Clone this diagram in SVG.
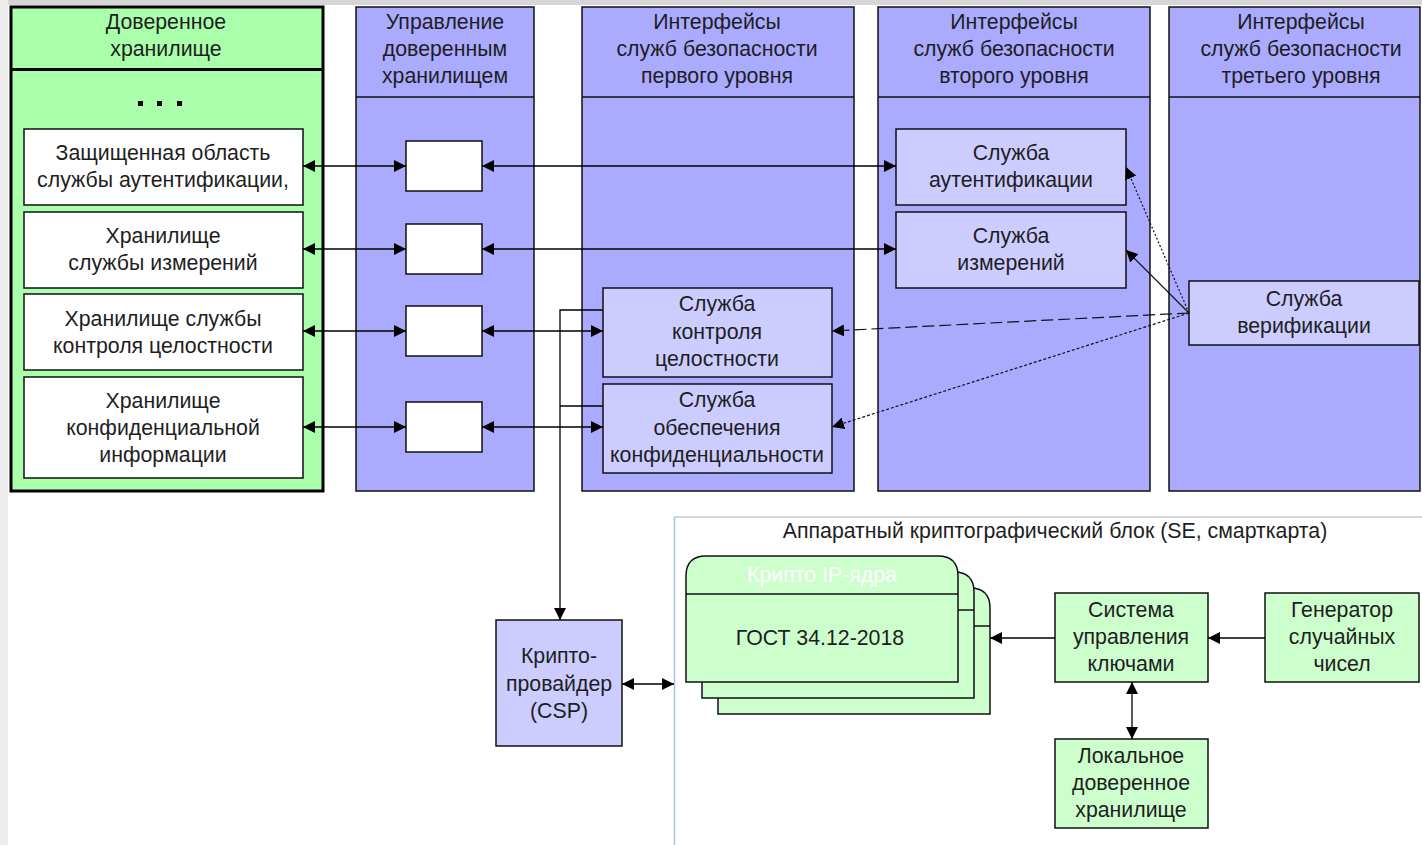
<svg xmlns="http://www.w3.org/2000/svg" width="1422" height="845" viewBox="0 0 1422 845">
  <defs>
    <marker id="ah" viewBox="0 0 12 12" refX="12" refY="6" markerWidth="12" markerHeight="12" markerUnits="userSpaceOnUse" orient="auto-start-reverse">
      <path d="M0,0 L12,6 L0,12 z" fill="#000"/>
    </marker>
    <style>
      text { font-family: "Liberation Sans", Arial, sans-serif; font-size: 21.3px; fill: #1e1e1e; text-anchor: middle; }
      .col { fill: #aaaaff; stroke: #111; stroke-width: 1.5; }
      .store { fill: #fff; stroke: #111; stroke-width: 1.5; }
      .svc { fill: #ccccff; stroke: #111; stroke-width: 1.5; }
      .hw { fill: #ccffcc; stroke: #111; stroke-width: 1.5; }
      .link { fill: none; stroke: #000; stroke-width: 1.3; }
      .dep { fill: none; stroke: #111; stroke-width: 1.2; }
    </style>
  </defs>

  <!-- page background -->
  <rect x="0" y="0" width="1422" height="845" fill="#ffffff"/>
  <rect x="0" y="0" width="1422" height="5" fill="#d6d6d6"/>
  <rect x="0" y="0" width="8" height="845" fill="#ececec"/>

  <!-- trusted storage panel -->
  <g id="trusted-storage">
    <rect x="11" y="7" width="312" height="484" fill="#aaffaa" stroke="#000" stroke-width="3"/>
    <line x1="11" y1="69.5" x2="323" y2="69.5" stroke="#000" stroke-width="3"/>
    <text x="166" y="29">Доверенное</text>
    <text x="166" y="56">хранилище</text>
    <g fill="#000">
      <rect x="138" y="101" width="5" height="5"/>
      <rect x="157" y="101" width="5" height="5"/>
      <rect x="177" y="101" width="5" height="5"/>
    </g>
  </g>
  <g id="store-auth">
    <rect class="store" x="24" y="129" width="279" height="76"/>
    <text x="163" y="160">Защищенная область</text>
    <text x="163" y="187">службы аутентификации,</text>
  </g>
  <g id="store-measure">
    <rect class="store" x="24" y="212" width="279" height="76"/>
    <text x="163" y="243">Хранилище</text>
    <text x="163" y="270">службы измерений</text>
  </g>
  <g id="store-integrity">
    <rect class="store" x="24" y="294" width="279" height="76"/>
    <text x="163" y="326">Хранилище службы</text>
    <text x="163" y="353">контроля целостности</text>
  </g>
  <g id="store-conf">
    <rect class="store" x="24" y="377" width="279" height="101"/>
    <text x="163" y="408">Хранилище</text>
    <text x="163" y="435">конфиденциальной</text>
    <text x="163" y="462">информации</text>
  </g>

  <!-- storage management column -->
  <g id="col-management">
    <rect class="col" x="356" y="7" width="178" height="484"/>
    <line x1="356" y1="97" x2="534" y2="97" stroke="#111" stroke-width="1.5"/>
    <text x="445" y="29">Управление</text>
    <text x="445" y="56">доверенным</text>
    <text x="445" y="83">хранилищем</text>
  </g>
  <g id="mgr-1"><rect class="store" x="406" y="141" width="76" height="50"/></g>
  <g id="mgr-2"><rect class="store" x="406" y="224" width="76" height="50"/></g>
  <g id="mgr-3"><rect class="store" x="406" y="306" width="76" height="50"/></g>
  <g id="mgr-4"><rect class="store" x="406" y="402" width="76" height="50"/></g>

  <!-- level 1 interfaces -->
  <g id="col-level1">
    <rect class="col" x="582" y="7" width="272" height="484"/>
    <line x1="582" y1="97" x2="854" y2="97" stroke="#111" stroke-width="1.5"/>
    <text x="717" y="29">Интерфейсы</text>
    <text x="717" y="56">служб безопасности</text>
    <text x="717" y="83">первого уровня</text>
  </g>
  <g id="svc-integrity">
    <rect class="svc" x="603" y="288" width="229" height="89"/>
    <text x="717" y="311">Служба</text>
    <text x="717" y="339">контроля</text>
    <text x="717" y="366">целостности</text>
  </g>
  <g id="svc-conf">
    <rect class="svc" x="603" y="384" width="229" height="89"/>
    <text x="717" y="407">Служба</text>
    <text x="717" y="435">обеспечения</text>
    <text x="717" y="462">конфиденциальности</text>
  </g>

  <!-- level 2 interfaces -->
  <g id="col-level2">
    <rect class="col" x="878" y="7" width="272" height="484"/>
    <line x1="878" y1="97" x2="1150" y2="97" stroke="#111" stroke-width="1.5"/>
    <text x="1014" y="29">Интерфейсы</text>
    <text x="1014" y="56">служб безопасности</text>
    <text x="1014" y="83">второго уровня</text>
  </g>
  <g id="svc-auth">
    <rect class="svc" x="896" y="129" width="230" height="76"/>
    <text x="1011" y="160">Служба</text>
    <text x="1011" y="187">аутентификации</text>
  </g>
  <g id="svc-measure">
    <rect class="svc" x="896" y="212" width="230" height="76"/>
    <text x="1011" y="243">Служба</text>
    <text x="1011" y="270">измерений</text>
  </g>

  <!-- level 3 interfaces -->
  <g id="col-level3">
    <rect class="col" x="1169" y="7" width="251" height="484"/>
    <line x1="1169" y1="97" x2="1420" y2="97" stroke="#111" stroke-width="1.5"/>
    <text x="1301" y="29">Интерфейсы</text>
    <text x="1301" y="56">служб безопасности</text>
    <text x="1301" y="83">третьего уровня</text>
  </g>
  <g id="svc-verify">
    <rect class="svc" x="1189" y="281" width="230" height="64"/>
    <text x="1304" y="306">Служба</text>
    <text x="1304" y="333">верификации</text>
  </g>

  <!-- crypto provider -->
  <g id="csp">
    <rect class="svc" x="496" y="620" width="126" height="126"/>
    <text x="559" y="663">Крипто-</text>
    <text x="559" y="691">провайдер</text>
    <text x="559" y="718">(CSP)</text>
  </g>

  <!-- hardware crypto block -->
  <g id="hw-block">
    <line x1="674" y1="517" x2="1422" y2="517" stroke="#c8c8c8" stroke-width="1.5"/>
    <line x1="674.5" y1="517" x2="674.5" y2="845" stroke="#a8c4e2" stroke-width="1.5"/>
    <text x="1055" y="538">Аппаратный криптографический блок (SE, смарткарта)</text>
  </g>
  <g id="crypto-cores">
    <path class="hw" d="M718,714 V608 Q718,588 738,588 H970 Q990,588 990,608 V714 Z"/>
    <line x1="718" y1="626" x2="990" y2="626" stroke="#111" stroke-width="1.5"/>
    <path class="hw" d="M702,698 V592 Q702,572 722,572 H954 Q974,572 974,592 V698 Z"/>
    <line x1="702" y1="610" x2="974" y2="610" stroke="#111" stroke-width="1.5"/>
    <path class="hw" d="M686,682 V576 Q686,556 706,556 H938 Q958,556 958,576 V682 Z"/>
    <line x1="686" y1="594" x2="958" y2="594" stroke="#111" stroke-width="1.5"/>
    <text x="822" y="582" style="fill:#ffffff">Крипто IP-ядра</text>
    <text x="820" y="645">ГОСТ 34.12-2018</text>
  </g>
  <g id="key-mgmt">
    <rect class="hw" x="1055" y="593" width="153" height="89"/>
    <text x="1131" y="617">Система</text>
    <text x="1131" y="644">управления</text>
    <text x="1131" y="671">ключами</text>
  </g>
  <g id="rng">
    <rect class="hw" x="1265" y="593" width="154" height="89"/>
    <text x="1342" y="617">Генератор</text>
    <text x="1342" y="644">случайных</text>
    <text x="1342" y="671">чисел</text>
  </g>
  <g id="local-storage">
    <rect class="hw" x="1055" y="739" width="153" height="89"/>
    <text x="1131" y="763">Локальное</text>
    <text x="1131" y="790">доверенное</text>
    <text x="1131" y="817">хранилище</text>
  </g>

  <!-- connectors -->
  <g id="connectors">
    <line class="link" x1="303" y1="166" x2="406" y2="166" marker-start="url(#ah)" marker-end="url(#ah)"/>
    <line class="link" x1="482" y1="166" x2="896" y2="166" marker-start="url(#ah)" marker-end="url(#ah)"/>
    <line class="link" x1="303" y1="249" x2="406" y2="249" marker-start="url(#ah)" marker-end="url(#ah)"/>
    <line class="link" x1="482" y1="249" x2="896" y2="249" marker-start="url(#ah)" marker-end="url(#ah)"/>
    <line class="link" x1="303" y1="331" x2="406" y2="331" marker-start="url(#ah)" marker-end="url(#ah)"/>
    <line class="link" x1="482" y1="331" x2="603" y2="331" marker-start="url(#ah)" marker-end="url(#ah)"/>
    <line class="link" x1="303" y1="427" x2="406" y2="427" marker-start="url(#ah)" marker-end="url(#ah)"/>
    <line class="link" x1="482" y1="427" x2="603" y2="427" marker-start="url(#ah)" marker-end="url(#ah)"/>

    <!-- level 1 services to the crypto provider -->
    <polyline class="link" points="603,310 560,310 560,620" marker-end="url(#ah)"/>
    <line class="link" x1="603" y1="406" x2="560" y2="406"/>

    <!-- verification service dependencies -->
    <line class="dep" x1="1189" y1="313" x2="1126" y2="167" stroke-dasharray="2,2" marker-end="url(#ah)"/>
    <line class="dep" x1="1189" y1="313" x2="1126" y2="250" marker-end="url(#ah)"/>
    <line class="dep" x1="1189" y1="313" x2="832" y2="331" stroke-dasharray="12,5" marker-end="url(#ah)"/>
    <line class="dep" x1="1189" y1="313" x2="832" y2="427" stroke-dasharray="3,2" marker-end="url(#ah)"/>

    <!-- hardware block links -->
    <line class="link" x1="622" y1="684" x2="674" y2="684" marker-start="url(#ah)" marker-end="url(#ah)"/>
    <line class="link" x1="1055" y1="638" x2="990" y2="638" marker-end="url(#ah)"/>
    <line class="link" x1="1265" y1="638" x2="1208" y2="638" marker-end="url(#ah)"/>
    <line class="link" x1="1132" y1="682" x2="1132" y2="739" marker-start="url(#ah)" marker-end="url(#ah)"/>
  </g>
</svg>
